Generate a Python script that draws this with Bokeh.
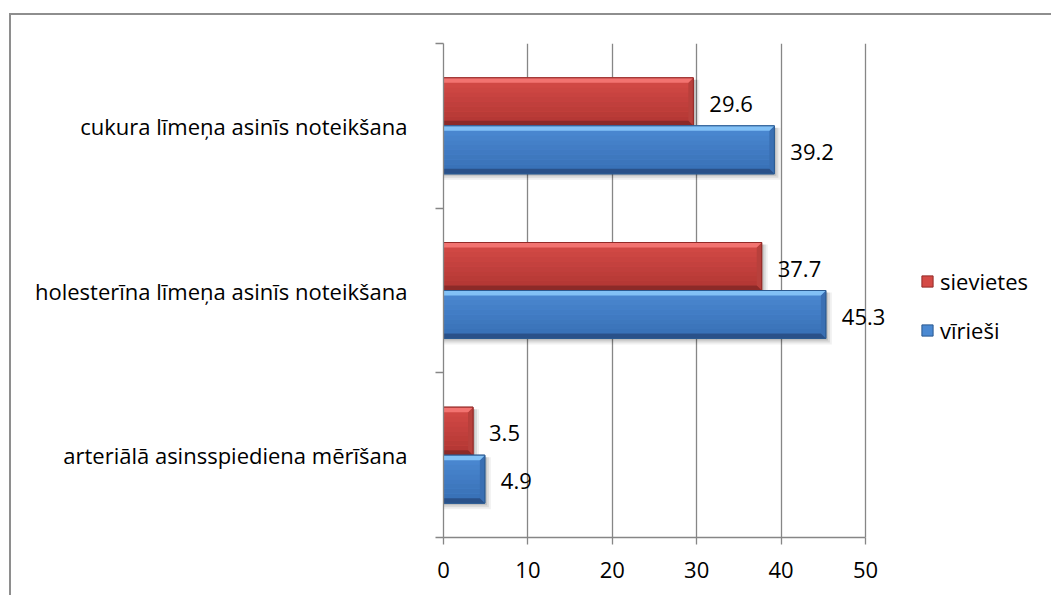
from bokeh.plotting import figure
from bokeh.models import Range1d, FixedTicker, Legend, LegendItem, ColumnDataSource
from bokeh.core.properties import value
from bokeh.embed import file_html
from bokeh.resources import INLINE

# Survey data: share of respondents (%) per health check, by sex
categories = [
    "arteriālā asinsspiediena mērīšana",
    "holesterīna līmeņa asinīs noteikšana",
    "cukura līmeņa asinīs noteikšana",
]
sievietes = [3.5, 37.7, 29.6]
virieshi = [4.9, 45.3, 39.2]
series_labels = ["sievietes", "vīrieši"]
x_ticks = [0, 10, 20, 30, 40, 50]

FONT = "Open Sans"
AXIS_GRAY = "#868686"

# layout in pixels: the value axis spans 422 px, the frame continues to the
# right edge so that value labels and the legend can sit past the last tick
FIG_W, FIG_H = 1042, 582
LEFT, TOP, BOTTOM = 432, 28, 60
AXIS_PX = 422
FRAME_W = FIG_W - LEFT
FRAME_H = FIG_H - TOP - BOTTOM
X_MAX, N_CAT = 50, len(categories)
X_END = X_MAX * FRAME_W / AXIS_PX
PX_X = X_MAX / AXIS_PX
PX_Y = N_CAT / FRAME_H
BAR_H = 48 * PX_Y

p = figure(
    width=FIG_W, height=FIG_H,
    x_range=Range1d(0, X_END), y_range=Range1d(0, N_CAT),
    output_backend="svg", toolbar_location=None,
    min_border_left=LEFT, min_border_right=0,
    min_border_top=TOP, min_border_bottom=BOTTOM,
    margin=(13, 0, 0, 9),
    styles={"border-top": "2px solid #8e8e8e", "border-left": "2px solid #8e8e8e"},
)
p.outline_line_color = None
p.background_fill_color = "white"
p.border_fill_color = "white"

# x axis and vertical grid
p.xaxis.ticker = FixedTicker(ticks=x_ticks, minor_ticks=[])
p.xaxis.bounds = (0, X_MAX)
p.xaxis.axis_line_color = AXIS_GRAY
p.xaxis.axis_line_width = 1.3
p.xaxis.major_tick_line_color = AXIS_GRAY
p.xaxis.major_tick_line_width = 1.3
p.xaxis.major_tick_out = 7
p.xaxis.major_tick_in = 0
p.xaxis.major_label_standoff = 17
p.xaxis.major_label_text_font = FONT
p.xaxis.major_label_text_font_size = "22px"
p.xaxis.major_label_text_color = "black"
p.xgrid.ticker = FixedTicker(ticks=x_ticks)
p.xgrid.grid_line_color = AXIS_GRAY
p.xgrid.grid_line_width = 1.3
p.ygrid.grid_line_color = None

# y axis: labels at category centres, tick marks at category boundaries
p.yaxis.ticker = FixedTicker(ticks=[i + 0.5 for i in range(N_CAT)],
                             minor_ticks=list(range(N_CAT + 1)))
p.yaxis.major_label_overrides = {i + 0.5: c for i, c in enumerate(categories)}
p.yaxis.axis_line_color = AXIS_GRAY
p.yaxis.axis_line_width = 1.3
p.yaxis.major_tick_line_color = None
p.yaxis.major_tick_out = 0
p.yaxis.major_tick_in = 0
p.yaxis.minor_tick_line_color = AXIS_GRAY
p.yaxis.minor_tick_line_width = 1.3
p.yaxis.minor_tick_out = 8
p.yaxis.minor_tick_in = 0
p.yaxis.major_label_standoff = 28
p.yaxis.major_label_text_font = FONT
p.yaxis.major_label_text_font_size = "22px"
p.yaxis.major_label_text_color = "black"


def mix(c1, c2, t):
    a = [int(c1[i:i + 2], 16) for i in (1, 3, 5)]
    b = [int(c2[i:i + 2], 16) for i in (1, 3, 5)]
    return "#" + "".join(f"{round(x + (y - x) * t):02x}" for x, y in zip(a, b))


styles = {
    "sievietes": dict(face_top="#d44a46", face_bot="#ad3431", hi="#f27370",
                      lo="#8c2a28", side="#b8403c", edge="#932a28"),
    "vīrieši": dict(face_top="#4b89d2", face_bot="#356cb1", hi="#82c1f6",
                    lo="#2a5189", side="#3a6fb3", edge="#2b5a90"),
}

centers = [i + 0.5 for i in range(N_CAT)]
series = [
    ("sievietes", sievietes, [c for c in centers], [c + BAR_H for c in centers]),
    ("vīrieši", virieshi, [c - BAR_H for c in centers], [c for c in centers]),
]

bx, by = 5 * PX_X, 5 * PX_Y
legend_items = []

# soft drop shadows first, so the bars sit on top of them
for name, vals, bottoms, tops in series:
    for k, a in zip((6, 4, 2), (0.06, 0.09, 0.12)):
        p.quad(left=[0] * len(vals), right=[v + k * PX_X for v in vals],
               bottom=[b - k * PX_Y for b in bottoms], top=[t - 2 * PX_Y for t in tops],
               fill_color="#000000", fill_alpha=a, line_color=None)

for name, vals, bottoms, tops in series:
    st = styles[name]
    src = ColumnDataSource(dict(left=[0] * len(vals), right=vals, bottom=bottoms, top=tops))
    base = p.quad(left="left", right="right", bottom="bottom", top="top", source=src,
                  fill_color=st["face_top"], line_color=st["edge"], line_width=1)
    legend_items.append(LegendItem(label=name, renderers=[base]))

    # vertical shading of the bar face in thin bands
    n_bands = 10
    for j in range(n_bands):
        t0 = j / n_bands
        t1 = (j + 1) / n_bands
        p.quad(left=[0] * len(vals), right=vals,
               top=[t - (t - b) * t0 for b, t in zip(bottoms, tops)],
               bottom=[t - (t - b) * t1 for b, t in zip(bottoms, tops)],
               fill_color=mix(st["face_top"], st["face_bot"], t0), line_color=None)

    # bevel: top highlight, bottom shade and right end
    top_x, top_y, bot_x, bot_y, side_x, side_y = [], [], [], [], [], []
    for v, b, t in zip(vals, bottoms, tops):
        top_x.append([0, v, v - bx, 0])
        top_y.append([t, t, t - by, t - by])
        bot_x.append([0, v, v - bx, 0])
        bot_y.append([b, b, b + by, b + by])
        side_x.append([v, v, v - bx, v - bx])
        side_y.append([b, t, t - by, b + by])
    p.patches(side_x, side_y, fill_color=st["side"], line_color=None)
    p.patches(top_x, top_y, fill_color=st["hi"], line_color=None)
    p.patches(bot_x, bot_y, fill_color=st["lo"], line_color=None)
    p.quad(left=[0] * len(vals), right=vals, bottom=bottoms, top=tops,
           fill_color=None, line_color=st["edge"], line_width=1)

    # value labels right of each bar
    lab = ColumnDataSource(dict(x=vals, y=[(b + t) / 2 for b, t in zip(bottoms, tops)],
                                text=[f"{v:g}" for v in vals]))
    p.text(x="x", y="y", text="text", source=lab, x_offset=16, y_offset=2,
           text_align="left", text_baseline="middle",
           text_font=value(FONT), text_font_size="22px", text_color="black")

legend = Legend(items=legend_items, location=(477, 192), orientation="vertical",
                padding=0, margin=0, spacing=19, glyph_width=14, glyph_height=14,
                label_standoff=6, label_text_font=FONT, label_text_font_size="22px",
                label_text_color="black", border_line_color=None,
                background_fill_alpha=0)
p.add_layout(legend, "center")

open("out.html", "w").write(file_html(p, INLINE))
